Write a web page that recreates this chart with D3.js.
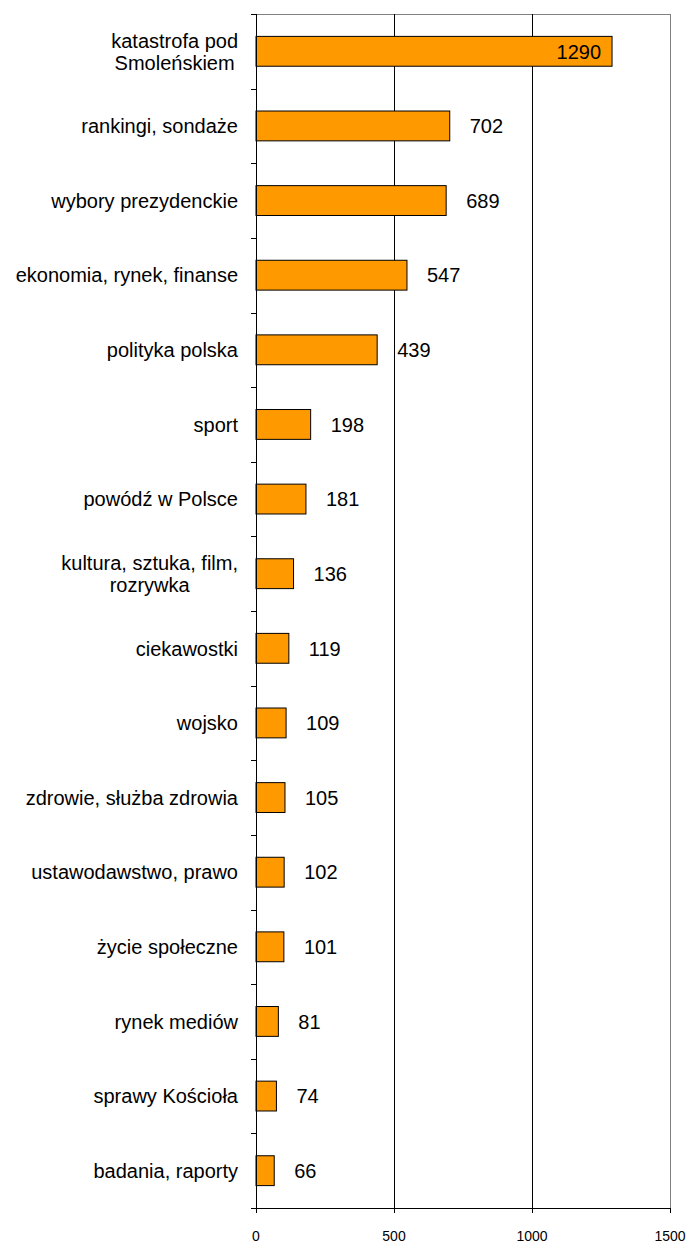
<!DOCTYPE html>
<html><head><meta charset="utf-8">
<script src="https://cdn.jsdelivr.net/npm/d3@7"></script>
<style>body{margin:0;background:#fff}svg{display:block}text{font-family:"Liberation Sans",Arial,sans-serif}</style>
</head><body><svg id="c" width="691" height="1245"></svg>
<script>
const categories = [
  ["katastrofa pod","Smoleńskiem"],
  ["rankingi, sondaże"],
  ["wybory prezydenckie"],
  ["ekonomia, rynek, finanse"],
  ["polityka polska"],
  ["sport"],
  ["powódź w Polsce"],
  ["kultura, sztuka, film,","rozrywka"],
  ["ciekawostki"],
  ["wojsko"],
  ["zdrowie, służba zdrowia"],
  ["ustawodawstwo, prawo"],
  ["życie społeczne"],
  ["rynek mediów"],
  ["sprawy Kościoła"],
  ["badania, raporty"]
];
const values = [1290,702,689,547,439,198,181,136,119,109,105,102,101,81,74,66];
const xTicks = [0,500,1000,1500];

const svg = d3.select("#c");
const L = 256, R = 670, T = 14, B = 1208;
const x = d3.scaleLinear().domain([0,1500]).range([L,R]);
const y = d3.scaleBand().domain(d3.range(values.length)).range([T,B]).paddingInner(0.6).paddingOuter(0.3);
const step = (B-T)/values.length;

// plot border (gray top/right)
svg.append("line").attr("x1",L).attr("x2",x(1500)).attr("y1",T+0.5).attr("y2",T+0.5).attr("stroke","#808080");
// gridlines
svg.append("g").selectAll("line").data(xTicks.slice(1)).join("line")
  .attr("x1",d=>Math.round(x(d))+0.5).attr("x2",d=>Math.round(x(d))+0.5).attr("y1",T).attr("y2",B)
  .attr("stroke",d=>d===1500?"#808080":"#000");

// bars
svg.append("g").selectAll("rect").data(values).join("rect")
  .attr("x",L).attr("y",(d,i)=>y(i)).attr("width",d=>x(d)-L).attr("height",y.bandwidth())
  .attr("fill","#FF9900").attr("stroke","#000").attr("stroke-width",1);

// value labels
svg.append("g").selectAll("text").data(values).join("text")
  .attr("x",d=>d>1000?x(d)-11:x(d)+20)
  .attr("y",(d,i)=>y(i)+y.bandwidth()/2)
  .attr("dy","0.36em").attr("text-anchor",d=>d>1000?"end":"start")
  .attr("font-size",20).attr("fill","#000").text(d=>d);

// y axis
const yAxis = svg.append("g");
yAxis.append("line").attr("x1",L+0.5).attr("x2",L+0.5).attr("y1",T).attr("y2",B).attr("stroke","#000");
yAxis.selectAll("line.t").data(d3.range(values.length+1)).join("line").attr("class","t")
  .attr("x1",L-5).attr("x2",L).attr("y1",i=>Math.round(T+i*step)+0.5).attr("y2",i=>Math.round(T+i*step)+0.5).attr("stroke","#000");

// category labels
const lab = svg.append("g");
categories.forEach((lines,i)=>{
  const cy = y(i)+y.bandwidth()/2;
  const g = lab.append("text").attr("font-size",20).attr("fill","#000");
  const lh = 22;
  lines.forEach((t,j)=>{
    g.append("tspan").attr("y",cy+(j-(lines.length-1)/2)*lh).attr("dy","0.36em").text(t);
  });
  if(lines.length===1){
    g.attr("text-anchor","end"); g.selectAll("tspan").attr("x",238);
  } else {
    let mw=0; g.selectAll("tspan").each(function(){mw=Math.max(mw,this.getComputedTextLength());});
    g.attr("text-anchor","middle"); g.selectAll("tspan").attr("x",238-mw/2);
  }
});

// x axis
const xa = svg.append("g");
xa.append("line").attr("x1",L-5).attr("x2",R).attr("y1",B+0.5).attr("y2",B+0.5).attr("stroke","#000");
xa.selectAll("line.t").data(xTicks).join("line").attr("class","t")
  .attr("x1",d=>Math.round(x(d))+0.5).attr("x2",d=>Math.round(x(d))+0.5).attr("y1",B).attr("y2",B+5).attr("stroke","#000");
xa.selectAll("text").data(xTicks).join("text")
  .attr("x",d=>x(d)).attr("y",1236).attr("dy","0.35em").attr("text-anchor","middle")
  .attr("font-size",14).attr("fill","#000").text(d=>d);
</script></body></html>
